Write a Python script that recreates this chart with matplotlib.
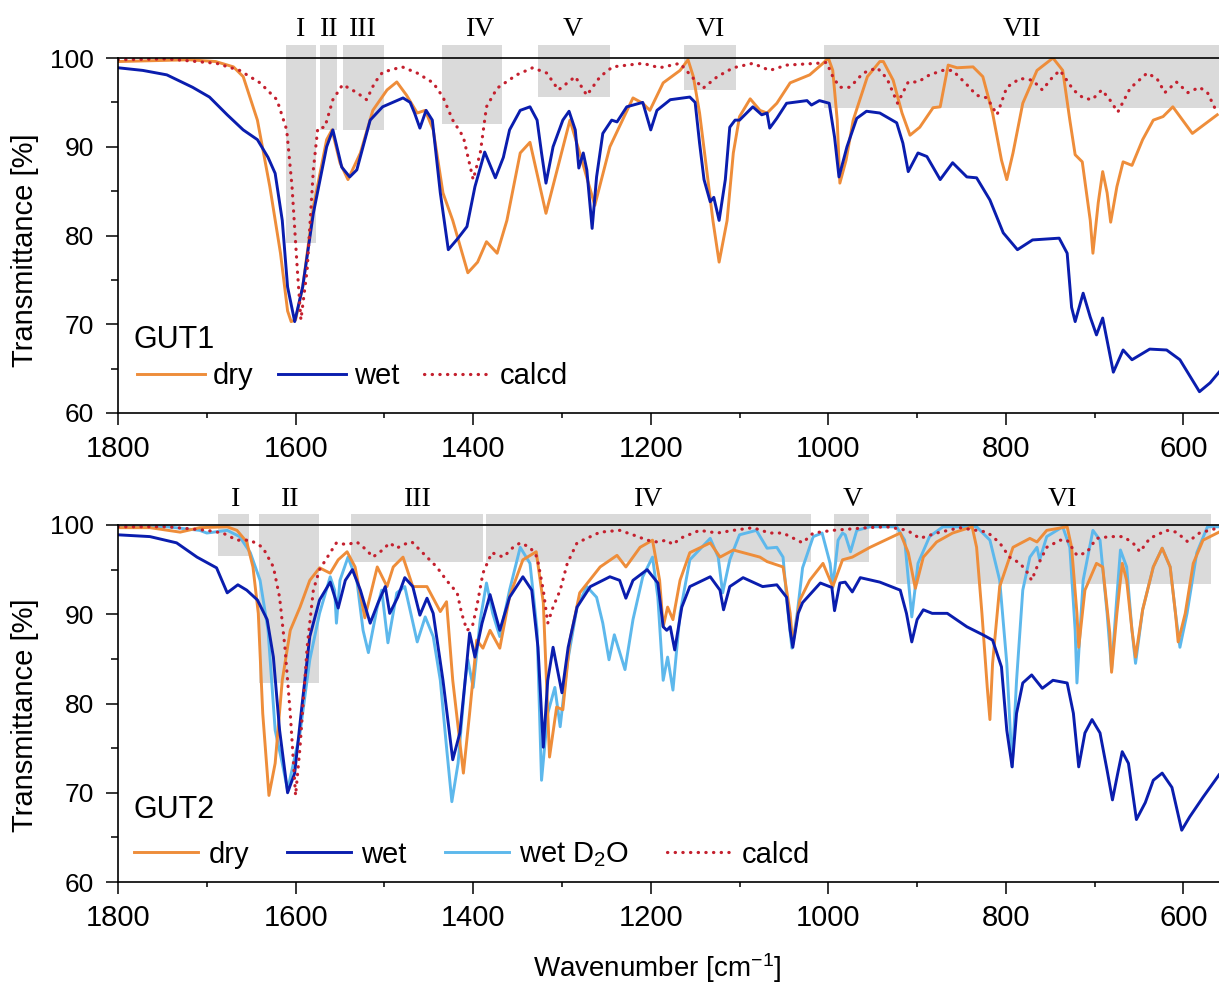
import numpy as np
import matplotlib
matplotlib.use("Agg")
import matplotlib.pyplot as plt
from matplotlib.patches import Rectangle
from matplotlib.ticker import MultipleLocator

plt.rcParams['font.family'] = ['Liberation Sans', 'DejaVu Sans']
plt.rcParams['mathtext.default'] = 'regular'

# ---------------- GUT1 (top panel) ----------------
gut1_dry_wn = [1800, 1760, 1720, 1690, 1670, 1659, 1643, 1629, 1617, 1609, 1605, 1600, 1592, 1580, 1565, 1559,
               1550, 1541, 1527, 1513, 1497, 1486, 1475, 1463, 1454, 1445, 1434, 1423, 1406, 1395, 1385, 1373,
               1362, 1347, 1336, 1318, 1291, 1280, 1263, 1246, 1220, 1209, 1201, 1186, 1167, 1158, 1152, 1145,
               1137, 1130, 1123, 1114, 1107, 1100, 1088, 1077, 1069, 1058, 1043, 1021, 1006, 1000, 995, 990,
               987, 980, 972, 956, 942, 938, 927, 917, 908, 897, 882, 874, 865, 855, 837, 826, 815, 805, 799,
               792, 781, 765, 747, 736, 728, 722, 714, 705, 702, 696, 691, 686, 682, 675, 668, 658, 646, 634,
               623, 612, 601, 590, 574, 562]
gut1_dry_t = [99.6, 99.7, 99.8, 99.6, 99.0, 97.9, 93.0, 85.5, 78.0, 71.5, 70.3, 70.5, 74.2, 83.2, 90.8, 91.9,
              88.2, 86.3, 89.3, 94.1, 96.4, 97.3, 95.8, 93.8, 94.1, 91.9, 84.8, 81.7, 75.8, 77.0, 79.3, 78.0,
              81.7, 89.3, 90.5, 82.5, 93.0, 89.3, 83.4, 90.0, 95.5, 94.9, 94.1, 97.2, 98.6, 99.8, 97.9, 93.8,
              87.4, 81.7, 77.0, 81.7, 89.3, 93.4, 95.4, 94.1, 93.8, 94.9, 97.2, 98.1, 99.4, 100.0, 98.6, 93.0,
              85.9, 88.5, 93.0, 97.9, 99.6, 99.6, 97.5, 93.8, 91.3, 92.2, 94.4, 94.5, 99.2, 98.9, 99.0, 97.9,
              93.8, 88.5, 86.3, 89.3, 94.9, 98.6, 100.0, 98.6, 93.0, 89.1, 88.3, 81.7, 78.0, 83.7, 87.2, 84.8,
              81.5, 85.5, 88.3, 87.9, 90.8, 93.0, 93.4, 94.5, 93.0, 91.5, 92.7, 93.6]

gut1_wet_wn = [1800, 1772, 1745, 1716, 1697, 1677, 1659, 1643, 1631, 1623, 1615, 1609, 1601, 1592, 1580, 1565,
               1558, 1548, 1539, 1531, 1516, 1502, 1479, 1471, 1466, 1460, 1453, 1446, 1437, 1428, 1417, 1407,
               1398, 1387, 1375, 1366, 1359, 1347, 1336, 1328, 1323, 1318, 1310, 1299, 1292, 1285, 1281, 1276,
               1272, 1266, 1261, 1254, 1244, 1238, 1227, 1209, 1200, 1193, 1178, 1156, 1150, 1145, 1140, 1133,
               1129, 1123, 1116, 1111, 1105, 1100, 1085, 1075, 1069, 1066, 1058, 1047, 1024, 1019, 1010, 999,
               993, 988, 979, 968, 957, 942, 923, 916, 910, 899, 889, 874, 860, 844, 833, 818, 803, 787, 770,
               740, 731, 726, 722, 713, 705, 698, 691, 679, 668, 658, 638, 619, 604, 582, 570, 560]
gut1_wet_t = [98.9, 98.6, 98.1, 96.7, 95.6, 93.6, 91.9, 90.8, 88.8, 87.0, 81.7, 74.2, 70.3, 74.2, 82.5, 90.0,
              91.9, 87.7, 86.6, 87.4, 93.0, 94.5, 95.5, 95.0, 93.8, 92.1, 94.1, 93.0, 84.8, 78.4, 79.7, 81.0,
              85.5, 89.4, 86.5, 88.8, 91.9, 94.1, 94.5, 93.0, 89.3, 85.9, 90.0, 93.0, 94.0, 91.9, 87.6, 89.3,
              87.4, 80.8, 86.6, 91.5, 93.0, 92.8, 94.5, 95.0, 91.9, 94.1, 95.3, 95.6, 95.0, 90.4, 86.3, 83.8,
              84.3, 81.7, 86.3, 92.2, 93.0, 93.0, 94.5, 93.6, 93.8, 92.1, 93.2, 94.9, 95.2, 94.7, 95.2, 94.9,
              91.1, 86.6, 90.0, 93.2, 94.0, 93.8, 92.7, 90.4, 87.2, 89.3, 88.9, 86.3, 88.2, 86.6, 86.5, 84.0,
              80.3, 78.4, 79.5, 79.7, 78.0, 71.9, 70.3, 73.5, 70.8, 68.8, 70.7, 64.6, 67.1, 66.0, 67.2, 67.1,
              66.0, 62.4, 63.4, 64.6]

gut1_calc_wn = [1800, 1745, 1689, 1663, 1640, 1621, 1610, 1604, 1598, 1594, 1587, 1580, 1575, 1567, 1558, 1547,
                1531, 1520, 1511, 1502, 1480, 1463, 1445, 1434, 1423, 1411, 1400, 1392, 1385, 1373, 1351, 1333,
                1317, 1304, 1285, 1272, 1257, 1243, 1209, 1190, 1167, 1152, 1141, 1125, 1107, 1085, 1066, 1047,
                1013, 1002, 995, 987, 976, 968, 961, 945, 934, 922, 910, 899, 886, 871, 860, 844, 833, 821, 810,
                799, 784, 770, 759, 747, 739, 724, 713, 703, 692, 683, 674, 660, 641, 630, 621, 608, 595, 582,
                573, 562]
gut1_calc_t = [99.8, 99.9, 99.4, 98.6, 97.2, 95.3, 91.9, 85.5, 76.1, 70.5, 76.1, 87.4, 92.1, 92.2, 95.3, 97.0,
               96.1, 95.3, 97.2, 98.4, 99.0, 98.3, 97.2, 95.6, 93.0, 91.1, 86.3, 89.3, 94.5, 96.6, 98.1, 98.9,
               98.3, 96.4, 97.9, 95.8, 97.9, 99.0, 99.4, 98.9, 99.4, 97.7, 96.6, 97.9, 98.9, 99.4, 98.6, 99.2,
               99.4, 99.5, 97.9, 96.7, 96.7, 97.5, 98.3, 98.9, 97.7, 94.9, 97.3, 97.3, 98.1, 98.6, 98.6, 97.0,
               95.8, 95.5, 93.6, 96.7, 97.7, 97.5, 96.4, 97.9, 98.6, 96.4, 95.5, 95.3, 96.4, 95.3, 93.9, 96.6,
               98.3, 97.7, 96.1, 97.3, 96.1, 96.7, 96.1, 93.8]

# ---------------- GUT2 (bottom panel) ----------------
gut2_dry_wn = [1800, 1764, 1730, 1708, 1677, 1666, 1655, 1648, 1642, 1637, 1630, 1623, 1615, 1606, 1595, 1584,
               1573, 1561, 1552, 1542, 1533, 1522, 1508, 1497, 1490, 1479, 1468, 1452, 1437, 1430, 1423, 1411,
               1404, 1396, 1389, 1381, 1370, 1359, 1344, 1329, 1321, 1314, 1306, 1299, 1291, 1280, 1257, 1238,
               1228, 1212, 1198, 1190, 1186, 1181, 1175, 1167, 1156, 1133, 1122, 1107, 1077, 1069, 1051, 1043,
               1040, 1032, 1021, 1006, 995, 984, 973, 953, 919, 910, 902, 893, 878, 860, 838, 833, 827, 821,
               818, 815, 807, 792, 773, 765, 754, 731, 726, 720, 718, 711, 698, 691, 683, 681, 675, 669, 664,
               658, 654, 646, 634, 624, 615, 609, 606, 598, 589, 578, 560]
gut2_dry_t = [99.7, 99.7, 99.2, 99.7, 99.8, 99.4, 98.1, 95.3, 90.1, 78.9, 69.7, 73.3, 82.6, 88.2, 90.8, 93.8,
              95.2, 94.6, 96.1, 97.0, 95.3, 89.6, 95.3, 93.1, 95.3, 96.4, 93.1, 93.1, 90.3, 91.4, 82.6, 72.2,
              78.9, 87.1, 86.2, 88.2, 86.2, 92.0, 96.1, 97.0, 91.3, 74.0, 79.6, 79.3, 87.1, 92.4, 95.3, 96.6,
              95.3, 97.5, 98.3, 93.8, 88.6, 90.8, 89.4, 93.8, 96.9, 98.0, 96.4, 97.2, 96.4, 95.9, 95.3, 90.1,
              86.6, 91.6, 93.8, 95.7, 93.1, 96.1, 96.4, 97.5, 99.1, 96.9, 92.9, 96.4, 98.1, 99.1, 99.8, 97.5,
              90.1, 81.8, 78.2, 84.5, 93.1, 97.5, 98.5, 98.1, 99.4, 99.8, 97.5, 90.1, 86.3, 92.7, 95.7, 95.3,
              87.9, 83.5, 90.1, 95.7, 93.8, 88.2, 85.2, 90.5, 95.3, 97.4, 95.3, 90.1, 86.9, 90.1, 95.7, 98.3,
              99.2]

gut2_wet_wn = [1800, 1764, 1734, 1711, 1689, 1677, 1665, 1655, 1643, 1632, 1625, 1618, 1609, 1601, 1593, 1584,
               1573, 1561, 1552, 1544, 1536, 1527, 1516, 1507, 1499, 1494, 1485, 1477, 1468, 1460, 1452, 1445,
               1434, 1423, 1415, 1409, 1404, 1398, 1390, 1381, 1370, 1359, 1344, 1334, 1327, 1321, 1316, 1310,
               1300, 1293, 1283, 1268, 1246, 1235, 1228, 1220, 1204, 1192, 1186, 1182, 1178, 1173, 1165, 1156,
               1133, 1122, 1118, 1111, 1096, 1074, 1058, 1047, 1043, 1040, 1034, 1029, 1009, 996, 993, 987, 981,
               973, 964, 942, 919, 912, 906, 900, 893, 883, 866, 844, 826, 815, 805, 799, 793, 788, 781, 771,
               759, 747, 731, 724, 718, 711, 703, 694, 686, 680, 674, 669, 662, 653, 643, 634, 624, 613, 602,
               593, 578, 560]
gut2_wet_t = [98.9, 98.7, 98.0, 96.4, 95.2, 92.4, 93.3, 92.7, 91.6, 89.4, 85.2, 77.0, 70.0, 72.2, 79.6, 87.5,
              91.6, 93.6, 90.7, 93.8, 95.0, 92.7, 89.0, 91.3, 93.1, 90.1, 91.9, 94.1, 93.1, 89.9, 91.8, 90.1,
              82.6, 73.7, 76.7, 82.6, 87.9, 85.2, 89.0, 92.2, 88.2, 91.9, 94.2, 92.7, 86.3, 75.1, 82.6, 86.3,
              81.2, 86.3, 90.8, 93.1, 94.2, 93.8, 91.8, 93.8, 95.0, 93.5, 88.6, 88.2, 88.6, 86.0, 90.8, 93.1,
              94.2, 92.7, 90.5, 93.1, 94.1, 93.1, 93.3, 91.9, 88.2, 86.3, 90.1, 91.3, 93.5, 93.0, 90.4, 93.5,
              93.6, 92.5, 94.1, 93.6, 92.7, 90.1, 86.9, 89.4, 90.5, 90.1, 90.1, 88.6, 87.7, 87.1, 84.1, 77.0,
              72.9, 78.9, 82.3, 83.2, 81.7, 82.6, 82.3, 78.9, 72.9, 76.7, 78.2, 76.7, 72.5, 69.2, 72.2, 74.6,
              73.3, 67.0, 68.9, 71.4, 72.2, 70.6, 65.8, 67.3, 69.5, 72.0]

gut2_d2o_wn = [1800, 1745, 1708, 1700, 1677, 1663, 1651, 1640, 1631, 1623, 1615, 1609, 1595, 1584, 1573, 1561,
               1556, 1554, 1550, 1541, 1531, 1524, 1518, 1508, 1503, 1496, 1486, 1477, 1463, 1454, 1445, 1437,
               1430, 1424, 1417, 1409, 1406, 1400, 1392, 1385, 1378, 1370, 1359, 1347, 1336, 1328, 1323, 1316,
               1308, 1302, 1294, 1283, 1272, 1261, 1254, 1247, 1241, 1229, 1220, 1209, 1198, 1192, 1186, 1181,
               1175, 1167, 1156, 1133, 1124, 1119, 1111, 1100, 1081, 1069, 1058, 1051, 1046, 1041, 1035, 1029,
               1017, 1007, 998, 995, 989, 984, 981, 975, 968, 953, 923, 914, 906, 899, 886, 871, 833, 818, 807,
               799, 793, 788, 781, 773, 765, 762, 754, 736, 728, 722, 720, 713, 702, 694, 686, 681, 675, 671,
               664, 658, 654, 646, 634, 624, 615, 609, 604, 596, 585, 573, 560]
gut2_d2o_t = [99.8, 99.8, 99.4, 99.1, 99.4, 98.7, 96.9, 93.8, 88.2, 77.0, 73.3, 70.3, 76.7, 84.9, 90.1, 94.2,
              92.7, 89.0, 93.8, 96.4, 93.8, 88.2, 85.7, 90.8, 92.7, 86.8, 92.4, 93.1, 86.9, 89.7, 87.5, 82.6,
              75.1, 69.0, 73.3, 82.6, 84.9, 81.8, 89.4, 93.5, 90.1, 87.5, 92.7, 97.5, 95.7, 88.2, 71.4, 78.9,
              81.8, 77.4, 84.5, 90.8, 93.1, 91.9, 89.0, 84.9, 87.7, 83.8, 89.4, 94.2, 96.4, 91.9, 82.6, 85.2,
              81.5, 90.1, 96.1, 98.5, 96.4, 92.4, 96.1, 98.9, 99.4, 97.4, 97.5, 96.4, 90.8, 86.2, 90.1, 95.2,
              98.7, 99.1, 95.7, 93.0, 98.3, 99.1, 98.9, 97.0, 99.4, 99.8, 99.8, 98.3, 89.7, 95.7, 98.7, 99.8,
              99.8, 98.3, 93.8, 84.5, 72.9, 82.6, 92.7, 96.4, 97.5, 96.1, 98.7, 99.8, 97.5, 88.2, 82.3, 93.8,
              99.4, 98.3, 90.1, 83.8, 92.0, 97.2, 95.3, 88.2, 84.5, 90.5, 95.3, 97.4, 95.3, 90.1, 86.3, 90.1,
              96.9, 99.8, 99.8]

gut2_calc_wn = [1800, 1745, 1700, 1682, 1666, 1651, 1637, 1625, 1618, 1612, 1606, 1600, 1595, 1587, 1580, 1573,
                1561, 1554, 1542, 1531, 1520, 1513, 1502, 1494, 1486, 1479, 1469, 1460, 1449, 1441, 1430, 1418,
                1413, 1407, 1401, 1396, 1389, 1379, 1366, 1355, 1347, 1336, 1328, 1321, 1316, 1310, 1302, 1294,
                1283, 1257, 1235, 1220, 1204, 1193, 1182, 1175, 1167, 1145, 1125, 1107, 1085, 1066, 1051, 1035,
                1029, 1017, 995, 956, 934, 911, 897, 878, 852, 821, 807, 796, 784, 776, 771, 765, 754, 739, 731,
                720, 709, 698, 683, 668, 657, 649, 638, 619, 608, 595, 582, 560]
gut2_calc_t = [99.8, 99.8, 99.4, 99.1, 98.3, 98.3, 97.5, 95.3, 91.9, 86.3, 78.9, 69.7, 75.1, 86.3, 92.7, 95.0,
               96.9, 98.0, 97.8, 98.1, 97.2, 96.4, 97.2, 98.0, 97.4, 97.8, 98.1, 97.2, 96.1, 95.3, 93.8, 92.4,
               90.1, 88.2, 88.6, 90.8, 94.6, 96.9, 96.4, 97.5, 98.0, 97.5, 96.4, 92.7, 89.0, 90.8, 92.7, 95.7,
               98.0, 99.2, 99.4, 98.9, 98.3, 98.1, 98.3, 97.8, 98.5, 99.4, 99.1, 99.4, 99.7, 99.1, 99.1, 98.3,
               98.0, 99.1, 99.4, 99.7, 99.8, 99.4, 98.5, 99.1, 99.7, 99.2, 98.0, 96.4, 95.7, 94.7, 93.8, 95.3,
               97.5, 98.3, 98.3, 96.6, 96.9, 98.5, 98.7, 98.7, 98.0, 97.0, 98.5, 99.4, 99.2, 98.1, 99.1, 99.7]

# shaded regions: label, high-wavenumber edge, low-wavenumber edge, lower T limit
gut1_regions = ["I", "II", "III", "IV", "V", "VI", "VII"]
gut1_reg_hi = [1611, 1573, 1547, 1435, 1327, 1163, 1005]
gut1_reg_lo = [1577, 1553, 1500, 1368, 1246, 1104, 560]
gut1_reg_bot = [79.2, 91.9, 91.9, 92.6, 95.6, 96.4, 94.4]
gut1_label_wn = [1594, 1562, 1524, 1392, 1288, 1133, 782]

gut2_regions = ["I", "II", "III", "IV", "V", "VI"]
gut2_reg_hi = [1687, 1641, 1538, 1385, 994, 924]
gut2_reg_lo = [1653, 1574, 1389, 1019, 954, 569]
gut2_reg_bot = [96.5, 82.3, 95.9, 95.9, 95.9, 93.4]
gut2_label_wn = [1668, 1606, 1462, 1203, 972, 737]

C_DRY = '#EE8D3A'
C_WET = '#0A1DAE'
C_D2O = '#5DB8EC'
C_CALC = '#C4202E'
C_BOX = '#DADADA'

W, H = 1219, 985
fig = plt.figure(figsize=(W / 100, H / 100), dpi=100)
ax1 = fig.add_axes([118 / W, 1 - 413 / H, 1101 / W, 355 / H])
ax2 = fig.add_axes([118 / W, 1 - 882 / H, 1101 / W, 357 / H])

LW = 2.1
DOT = dict(lw=2.3, ls=(0, (0.1, 2.3)), dash_capstyle='round')


def style(ax):
    ax.set_xlim(1800, 560)
    ax.set_ylim(60, 100)
    ax.xaxis.set_major_locator(MultipleLocator(200))
    ax.xaxis.set_minor_locator(MultipleLocator(100))
    ax.yaxis.set_major_locator(MultipleLocator(10))
    ax.yaxis.set_minor_locator(MultipleLocator(5))
    ax.spines['right'].set_visible(False)
    for s in ['top', 'left', 'bottom']:
        ax.spines[s].set_linewidth(1.2)
        ax.spines[s].set_zorder(5)
    ax.tick_params(axis='x', which='major', direction='out', length=8.5, width=1.1, pad=7, labelsize=21)
    ax.tick_params(axis='x', which='minor', direction='out', length=3.6, width=1.1)
    ax.tick_params(axis='y', which='major', direction='out', length=8.5, width=1.1, pad=9, labelsize=19)
    ax.tick_params(axis='y', which='minor', direction='out', length=5, width=1.1)


def regions(ax, names, hi, lo, bot, lab_wn, top, lab_y):
    for n, h, l, b, lw_ in zip(names, hi, lo, bot, lab_wn):
        ax.add_patch(Rectangle((l, b), h - l, top - b, facecolor=C_BOX, edgecolor='none',
                               zorder=0.5, clip_on=False))
        ax.text(lw_, lab_y, n, ha='center', va='center', fontsize=20,
                family='Liberation Serif', clip_on=False)


# top panel
style(ax1)
regions(ax1, gut1_regions, gut1_reg_hi, gut1_reg_lo, gut1_reg_bot, gut1_label_wn, 101.5, 103.2)
h1, = ax1.plot(gut1_dry_wn, gut1_dry_t, color=C_DRY, lw=LW, zorder=2, label='dry')
h2, = ax1.plot(gut1_wet_wn, gut1_wet_t, color=C_WET, lw=LW, zorder=3, label='wet')
h3, = ax1.plot(gut1_calc_wn, gut1_calc_t, color=C_CALC, zorder=4, label='calcd', **DOT)
ax1.text(1783, 67.3, 'GUT1', fontsize=22, va='baseline', ha='left')
ax1.legend(handles=[h1, h2, h3], loc='center left', bbox_to_anchor=(0.0173, 0.105), ncol=3,
           frameon=False, borderpad=0, borderaxespad=0, handlelength=2.33, handletextpad=0.27,
           columnspacing=0.85, fontsize=21)

# bottom panel
style(ax2)
regions(ax2, gut2_regions, gut2_reg_hi, gut2_reg_lo, gut2_reg_bot, gut2_label_wn, 101.2, 102.9)
g3, = ax2.plot(gut2_d2o_wn, gut2_d2o_t, color=C_D2O, lw=LW, zorder=2, label='wet D$_2$O')
g1, = ax2.plot(gut2_dry_wn, gut2_dry_t, color=C_DRY, lw=LW, zorder=3, label='dry')
g2, = ax2.plot(gut2_wet_wn, gut2_wet_t, color=C_WET, lw=LW, zorder=3.5, label='wet')
g4, = ax2.plot(gut2_calc_wn, gut2_calc_t, color=C_CALC, zorder=4, label='calcd', **DOT)
ax2.text(1783, 67.2, 'GUT2', fontsize=22, va='baseline', ha='left')
ax2.legend(handles=[g1, g2, g3, g4], loc='center left', bbox_to_anchor=(0.0145, 0.0756), ncol=4,
           frameon=False, borderpad=0, borderaxespad=0, handlelength=2.2, handletextpad=0.35,
           columnspacing=1.3, fontsize=21)

fig.text(25 / W, 1 - 250 / H, 'Transmittance [%]', rotation=90, ha='center', va='center', fontsize=21)
fig.text(25 / W, 1 - 715 / H, 'Transmittance [%]', rotation=90, ha='center', va='center', fontsize=21)
fig.text(657 / W, 1 - 968 / H, 'Wavenumber [cm$^{-1}$]', ha='center', va='center', fontsize=20)

fig.savefig('out.png', dpi=100)
